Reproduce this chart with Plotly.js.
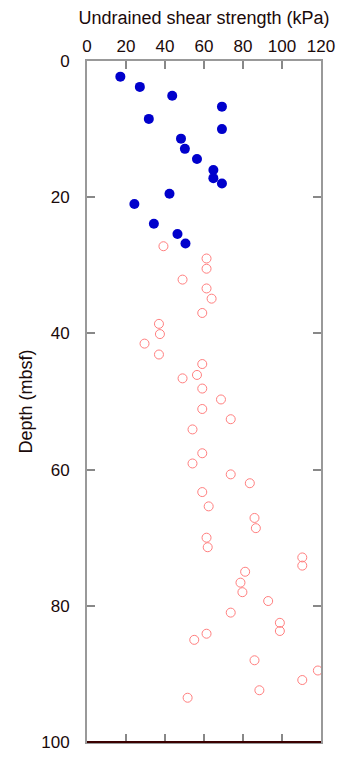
<!DOCTYPE html>
<html>
<head>
<meta charset="utf-8">
<script src="https://cdn.plot.ly/plotly-3.0.1.min.js"></script>
<style>html,body{margin:0;padding:0;background:#fff;}#chart{width:360px;height:779px;}</style>
</head>
<body>
<div id="chart"></div>
<script>
// Filled blue points: undrained shear strength (kPa) vs depth (mbsf)
var strengthA = [17.1, 27.1, 43.7, 69.2, 31.7, 69.2, 48.2, 50.2, 56.4, 64.8, 64.8, 69.2, 42.3, 24.3, 34.3, 46.4, 50.5];
var depthA    = [2.3, 3.8, 5.1, 6.7, 8.5, 10.0, 11.4, 12.9, 14.4, 16.0, 17.2, 18.0, 19.5, 21.0, 23.9, 25.4, 26.8];

// Open red points
var strengthB = [39.2, 61.3, 61.3, 49.0, 61.3, 63.9, 59.1, 36.9, 37.4, 29.5, 36.9, 59.1, 56.4, 49.0, 59.1, 68.7,
                 59.1, 73.7, 54.1, 59.1, 54.1, 73.7, 83.5, 59.1, 62.4, 85.9, 86.6, 61.3, 61.9, 110.4, 110.4,
                 81.1, 78.7, 79.7, 92.9, 73.7, 98.9, 98.9, 61.3, 55.0, 85.9, 118.4, 110.4, 88.4, 51.6];
var depthB    = [27.2, 29.0, 30.5, 32.1, 33.4, 34.9, 37.0, 38.6, 40.1, 41.5, 43.1, 44.5, 46.1, 46.6, 48.1, 49.7,
                 51.1, 52.6, 54.1, 57.6, 59.1, 60.7, 62.0, 63.3, 65.4, 67.1, 68.6, 70.0, 71.4, 72.9, 74.1,
                 75.0, 76.6, 78.0, 79.3, 81.0, 82.5, 83.7, 84.1, 85.0, 88.0, 89.5, 90.9, 92.4, 93.5];

var xTicks = [0, 20, 40, 60, 80, 100, 120];
var yTicks = [0, 20, 40, 60, 80, 100];

var font = {family: 'Liberation Sans, Arial, sans-serif', color: '#1a0a0a'};

var traces = [
  {x: strengthA, y: depthA, mode: 'markers', type: 'scatter', cliponaxis: false,
   marker: {symbol: 'circle', size: 10, color: '#0000cc', line: {width: 0}}},
  {x: strengthB, y: depthB, mode: 'markers', type: 'scatter', cliponaxis: false,
   marker: {symbol: 'circle-open', size: 9, color: '#ff7f7f', line: {width: 1, color: '#ff7f7f'}}}
];

var layout = {
  width: 360, height: 779,
  margin: {l: 87, r: 39, t: 61, b: 37},
  paper_bgcolor: '#fff', plot_bgcolor: '#fff',
  showlegend: false,
  font: {family: font.family, size: 17, color: font.color},
  xaxis: {
    side: 'top', range: [0, 120], tickvals: xTicks, ticktext: xTicks.map(String),
    showgrid: false, zeroline: false, showline: true, linecolor: '#999', linewidth: 2,
    mirror: 'ticks', ticks: 'inside', ticklen: 8, tickwidth: 2, tickcolor: '#888',
    tickfont: {size: 17, color: font.color},
    title: {text: 'Undrained shear strength (kPa)', font: {size: 18, color: font.color}, standoff: 8}
  },
  yaxis: {
    range: [100, 0], tickvals: yTicks, ticktext: yTicks.map(String),
    showgrid: false, zeroline: false, showline: true, linecolor: '#999', linewidth: 2,
    mirror: 'ticks', ticks: 'inside', ticklen: 8, tickwidth: 2, tickcolor: '#888',
    ticklabelstandoff: 12,
    tickfont: {size: 17, color: font.color},
    title: {text: 'Depth (mbsf)', font: {size: 18, color: font.color}, standoff: 4}
  },
  shapes: [
    {type: 'line', xref: 'paper', yref: 'paper', x0: 0, x1: 1, y0: 0, y1: 0,
     line: {color: '#3a0000', width: 2}}
  ]
};

Plotly.newPlot('chart', traces, layout, {displayModeBar: false, staticPlot: true});
</script>
</body>
</html>
